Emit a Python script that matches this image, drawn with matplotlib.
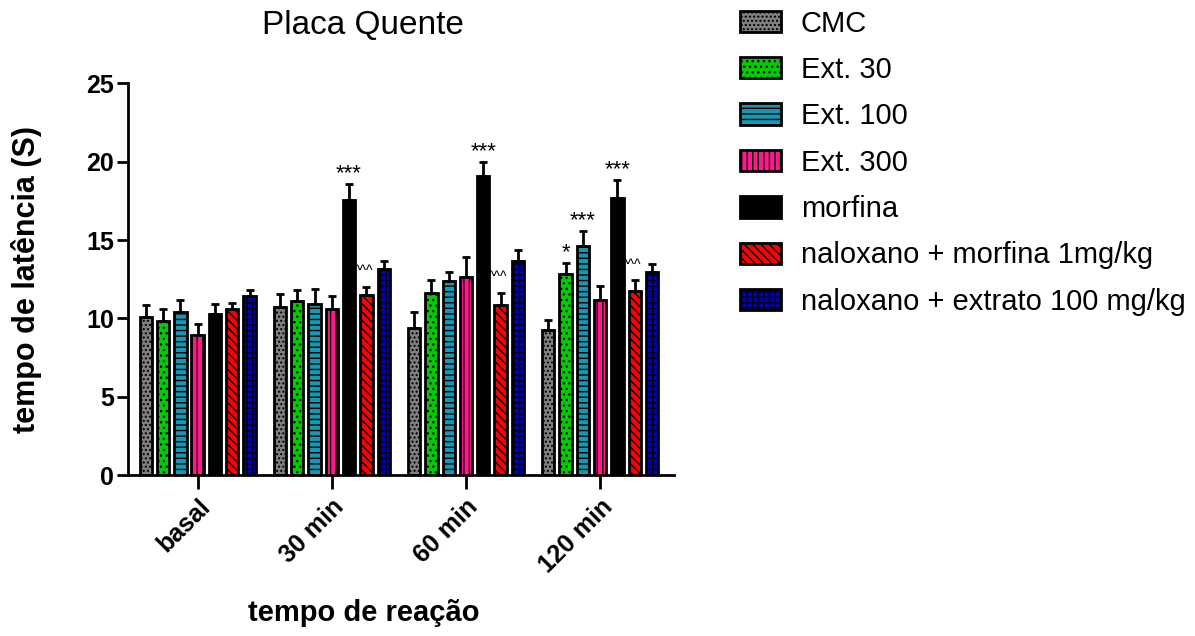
import numpy as np
import matplotlib.pyplot as plt

plt.rcParams['font.family'] = ['Liberation Sans', 'DejaVu Sans']
plt.rcParams['hatch.linewidth'] = 1.0

groups = ['basal', '30 min', '60 min', '120 min']
series = ['CMC', 'Ext. 30', 'Ext. 100', 'Ext. 300', 'morfina',
          'naloxano + morfina 1mg/kg', 'naloxano + extrato 100 mg/kg']
colors = ['#808080', '#00cc00', '#1a96b0', '#ff1a8c', '#000000', '#ff0000', '#0000b4']
hatches = ['....', '...', '---', '|||', '', '\\\\\\\\', '+++']

means = [
    [10.1, 10.73, 9.36, 9.29],
    [9.84, 11.12, 11.65, 12.82],
    [10.42, 10.9, 12.39, 14.65],
    [8.93, 10.59, 12.65, 11.16],
    [10.27, 17.58, 19.09, 17.69],
    [10.59, 11.52, 10.84, 11.73],
    [11.43, 13.12, 13.67, 12.97],
]
sem = [
    [0.74, 0.81, 1.02, 0.59],
    [0.79, 0.68, 0.83, 0.74],
    [0.74, 1.0, 0.58, 0.93],
    [0.68, 0.83, 1.27, 0.91],
    [0.63, 1.02, 0.89, 1.12],
    [0.40, 0.48, 0.81, 0.70],
    [0.37, 0.55, 0.68, 0.53],
]
# (group index, series index, mark)
marks = [(1, 4, '***'), (2, 4, '***'), (3, 4, '***'), (3, 1, '*'), (3, 2, '***'),
         (1, 5, '^^^'), (2, 5, '^^^'), (3, 5, '^^^')]

fig = plt.figure(figsize=(11.95, 6.36), dpi=100)
ax = fig.add_axes([0.107, 0.253, 0.457, 0.616])

x = np.arange(len(groups))
pitch = 0.129
width = 0.092
for i, name in enumerate(series):
    pos = x + (i - 3) * pitch
    ax.bar(pos, means[i], width, color=colors[i], edgecolor='black', linewidth=2,
           hatch=hatches[i], label=name, zorder=2)
    ax.errorbar(pos, means[i], yerr=[np.zeros(len(groups)), sem[i]], fmt='none',
                ecolor='black', elinewidth=2, capsize=3, capthick=2, zorder=3)

for g, s, txt in marks:
    top = means[s][g] + sem[s][g]
    if txt == '^^^':
        ax.text(x[g] + (s - 3) * pitch - 0.02, top + 0.75, txt, ha='center',
                va='baseline', fontsize=10)
    else:
        ax.text(x[g] + (s - 3) * pitch, top + 0.3, txt, ha='center',
                va='baseline', fontsize=16)

ax.set_xlim(-0.52, 3.55)
ax.set_ylim(0, 25)
ax.set_yticks([0, 5, 10, 15, 20, 25])
ax.set_xticks(x)
ax.set_xticklabels(groups, rotation=45, ha='right', rotation_mode='anchor')
for lab in ax.get_xticklabels() + ax.get_yticklabels():
    lab.set_fontweight('bold')
    lab.set_fontsize(18)
ax.tick_params(axis='x', length=10, width=2, pad=4)
ax.tick_params(axis='y', length=8, width=2, pad=2)
ax.spines['top'].set_visible(False)
ax.spines['right'].set_visible(False)
ax.spines['left'].set_linewidth(2)
ax.spines['bottom'].set_linewidth(2)

ax.set_ylabel('tempo de latência (S)', fontsize=22, fontweight='bold')
ax.yaxis.set_label_coords(-0.157, 0.5)
fig.text(0.304, 0.036, 'tempo de reação', ha='center', va='center',
         fontsize=21, fontweight='bold')
fig.text(0.304, 0.96, 'Placa Quente', ha='center', va='center', fontsize=24)

fig.legend(loc='upper left', bbox_to_anchor=(0.619, 0.985), frameon=False,
           fontsize=21, handlelength=1.4, handleheight=0.75, handletextpad=0.7,
           labelspacing=0.63, borderpad=0, borderaxespad=0)

fig.savefig('out.png', dpi=100)
